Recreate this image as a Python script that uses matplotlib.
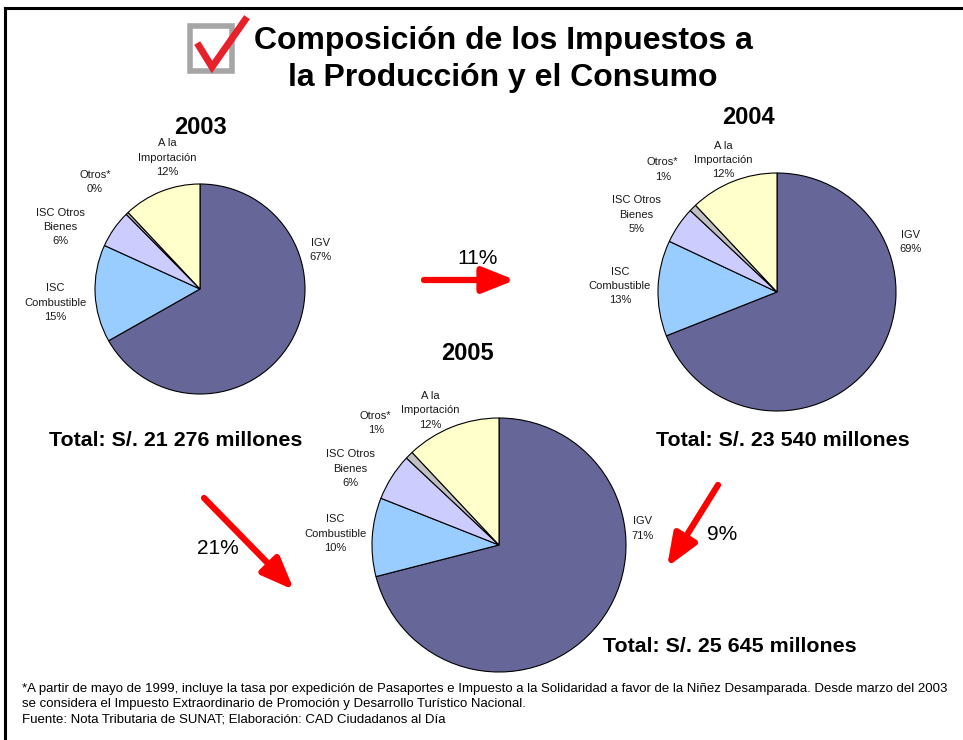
import matplotlib.pyplot as plt
from matplotlib.patches import Rectangle, FancyArrowPatch
from matplotlib.lines import Line2D

plt.rcParams['font.family'] = ['Liberation Sans', 'DejaVu Sans']

W, H = 963, 740

# data
categories = ['IGV', 'ISC\nCombustible', 'ISC Otros\nBienes', 'Otros*', 'A la\nImportación']
years = ['2003', '2004', '2005']
shares_2003 = [66.8, 15.0, 5.8, 0.4, 12.0]
shares_2004 = [69.0, 13.0, 5.0, 1.0, 12.0]
shares_2005 = [71.0, 10.0, 6.0, 1.0, 12.0]
totals = ['21 276', '23 540', '25 645']
growth = ['11%', '21%', '9%']

colors = ['#666699', '#99CCFF', '#CCCCFF', '#C0C0C0', '#FFFFCC']


def fx(px):
    return px / W


def fy(py):
    return 1 - py / H


fig = plt.figure(figsize=(W / 100, H / 100), dpi=100)

# frame lines (left and top)
fig.add_artist(Line2D([fx(5), fx(5)], [fy(8), 0], color='black', lw=2.2, transform=fig.transFigure))
fig.add_artist(Line2D([fx(5), 1], [fy(8), fy(8)], color='black', lw=2.2, transform=fig.transFigure))

# checkbox icon
fig.add_artist(Rectangle((fx(190), fy(71)), 42 / W, 45 / H, transform=fig.transFigure,
                         fill=False, edgecolor='#A6A6A6', lw=4))
fig.add_artist(Line2D([fx(199), fx(212), fx(245)], [fy(46), fy(67), fy(20)],
                      color='#E8202A', lw=5, solid_joinstyle='miter', transform=fig.transFigure))

fig.text(fx(503), fy(41), 'Composición de los Impuestos a', ha='center', va='center',
         fontsize=23, fontweight='bold')
fig.text(fx(503), fy(78), 'la Producción y el Consumo', ha='center', va='center',
         fontsize=23, fontweight='bold')

# pie geometry (center x, center y, radius in pixels)
pies = [
    (shares_2003, 200, 289, 105, (200, 127), (176, 441),
     [(1.15, 0.37), (-1.38, -0.13), (-1.33, 0.59), (-1.0, 1.02), (-0.31, 1.25)]),
    (shares_2004, 777, 292, 119, (748, 118), (783, 441),
     [(1.12, 0.42), (-1.32, 0.05), (-1.18, 0.65), (-0.96, 1.03), (-0.45, 1.11)]),
    (shares_2005, 499, 545, 127, (467, 354), (730, 646),
     [(1.13, 0.13), (-1.29, 0.09), (-1.17, 0.60), (-0.97, 0.96), (-0.54, 1.06)]),
]

for (vals, cx, cy, r, ypos, tpos, lpos), year, tot in zip(pies, years, totals):
    ax = fig.add_axes([fx(cx - 2 * r), fy(cy + 2 * r), 4 * r / W, 4 * r / H])
    ax.pie(vals, colors=colors, startangle=90, counterclock=False, radius=1,
           wedgeprops=dict(edgecolor='black', linewidth=0.8))
    ax.set_xlim(-2, 2)
    ax.set_ylim(-2, 2)
    ax.set_aspect('equal')
    ax.axis('off')
    for name, v, (dx, dy) in zip(categories, vals, lpos):
        ax.text(dx, dy, f'{name}\n{v:.0f}%', ha='center', va='center', fontsize=8,
                linespacing=1.55, color='#1a1a1a')
    fig.text(fx(ypos[0]), fy(ypos[1]), year, ha='center', va='center', fontsize=17, fontweight='bold')
    fig.text(fx(tpos[0]), fy(tpos[1]), f'Total: S/. {tot} millones', ha='center', va='center',
             fontsize=15.4, fontweight='bold')

# growth arrows
arrows = [((424, 280), (515, 280), (478, 259)),
          ((204, 498), (294, 590), (218, 549)),
          ((718, 485), (667, 567), (722, 535))]
for (start, end, tp), g in zip(arrows, growth):
    fig.add_artist(FancyArrowPatch(
        (fx(start[0]), fy(start[1])), (fx(end[0]), fy(end[1])), transform=fig.transFigure,
        arrowstyle='-|>,head_length=1.5,head_width=0.6', mutation_scale=13,
        color='#FF0000', lw=4.5, shrinkA=0, shrinkB=0))
    fig.text(fx(tp[0]), fy(tp[1]), g, ha='center', va='center', fontsize=15)

notes = ('*A partir de mayo de 1999, incluye la tasa por expedición de Pasaportes e Impuesto a la '
         'Solidaridad a favor de la Niñez Desamparada. Desde marzo del 2003\n'
         'se considera el Impuesto Extraordinario de Promoción y Desarrollo Turístico Nacional.\n'
         'Fuente: Nota Tributaria de SUNAT; Elaboración: CAD Ciudadanos al Día')
fig.text(fx(22), fy(683), notes, ha='left', va='top', fontsize=9.5, linespacing=1.37)

fig.savefig('out.png', dpi=100)
